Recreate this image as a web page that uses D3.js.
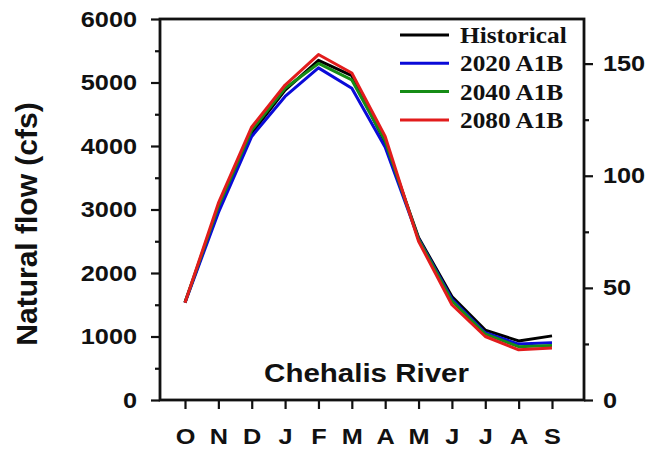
<!DOCTYPE html>
<html>
<head>
<meta charset="utf-8">
<script src="https://cdn.jsdelivr.net/npm/d3@7"></script>
<style>
    body { margin: 0; background: #fff; }
    text { font-family: "Liberation Sans", Arial, sans-serif; font-weight: bold; fill: #111; }
    .legend text { font-family: "Liberation Serif", "Times New Roman", serif; }
</style>
</head>
<body>
<script>
// monthly natural flow (cfs), water year Oct..Sep
let months = ["O", "N", "D", "J", "F", "M", "A", "M", "J", "J", "A", "S"];
let historical = [1540, 3000, 4200, 4880, 5350, 5110, 4050, 2560, 1630, 1100, 930, 1010];
let a1b2020 = [1530, 2950, 4150, 4780, 5230, 4910, 3980, 2540, 1590, 1060, 880, 900];
let a1b2040 = [1535, 3050, 4250, 4910, 5300, 5040, 4080, 2530, 1560, 1040, 840, 860];
let a1b2080 = [1530, 3100, 4300, 4960, 5440, 5150, 4150, 2500, 1500, 1000, 790, 820];
let seriesNames = ["Historical", "2020 A1B", "2040 A1B", "2080 A1B"];
let seriesColors = ["#000000", "#0a0ad8", "#168c16", "#e21c1c"];
let leftTicks = [0, 1000, 2000, 3000, 4000, 5000, 6000];
let rightTicks = [0, 50, 100, 150];
let cfsPerCms = 35.315;

let margin = { top: 19, right: 64, bottom: 49, left: 160 },
    width = 648 - margin.left - margin.right,
    height = 449 - margin.top - margin.bottom,
    textStretch = 1.15;

let svg = d3.select("body").append("svg")
    .attr("width", 648)
    .attr("height", 449)
    .append("g")
    .attr("transform", `translate(${margin.left}, ${margin.top})`);

let x = d3.scalePoint()
    .domain(d3.range(months.length))
    .range([25, 392]);

let y = d3.scaleLinear()
    .domain([0, 6000])
    .range([height, 0]);

// second axis in m3/s
let y2 = d3.scaleLinear()
    .domain([0, 6000 / cfsPerCms])
    .range([height, 0]);

function styleAxis(g, textX) {
    g.select(".domain").remove()
    g.selectAll(".tick line").attr("stroke", "#111").attr("stroke-width", 2.2)
    g.selectAll("text")
        .attr("font-size", 22)
        .attr("transform", `scale(${textStretch},1)`)
    if (textX != null) {
        g.selectAll("text").attr("x", textX / textStretch)
    }
}

// minor ticks
svg.append("g")
    .call(d3.axisLeft(y).tickValues(d3.range(500, 6000, 1000)).tickSize(5).tickFormat(""))
    .call(g => styleAxis(g));
svg.append("g")
    .attr("transform", `translate(${width}, 0)`)
    .call(d3.axisRight(y2).tickValues([25, 75, 125]).tickSize(5).tickFormat(""))
    .call(g => styleAxis(g));

svg.append("g")
    .call(d3.axisLeft(y).tickValues(leftTicks).tickSize(9).tickFormat(d3.format("d")))
    .call(g => styleAxis(g, -23));

svg.append("g")
    .attr("transform", `translate(${width}, 0)`)
    .call(d3.axisRight(y2).tickValues(rightTicks).tickSize(9))
    .call(g => styleAxis(g, 19));

svg.append("g")
    .attr("transform", `translate(0, ${height})`)
    .call(d3.axisBottom(x).tickSize(9).tickFormat(i => months[i]))
    .call(g => styleAxis(g))
    .call(g => g.selectAll("text").attr("y", 44).attr("dy", null).attr("font-size", 22));

// frame
svg.append("rect")
    .attr("width", width)
    .attr("height", height)
    .attr("fill", "none")
    .attr("stroke", "#111")
    .attr("stroke-width", 2.8);

let line = d3.line()
    .x((d, i) => x(i))
    .y(d => y(d));

let allSeries = [historical, a1b2020, a1b2040, a1b2080];

svg.selectAll("path.flow")
    .data(allSeries)
    .enter()
    .append("path")
    .attr("class", "flow")
    .attr("d", d => line(d))
    .attr("fill", "none")
    .attr("stroke", (d, i) => seriesColors[i])
    .attr("stroke-width", 3)
    .attr("stroke-linejoin", "round");

// legend
let legend = svg.append("g")
    .attr("class", "legend")
    .attr("transform", "translate(240, 16)");

let row = legend.selectAll("g")
    .data(seriesNames)
    .enter()
    .append("g")
    .attr("transform", (d, i) => `translate(0, ${i * 28.3})`);

row.append("line")
    .attr("x1", 0)
    .attr("x2", 49)
    .attr("stroke", (d, i) => seriesColors[i])
    .attr("stroke-width", 3);

row.append("text")
    .attr("x", 60 / 1.1)
    .attr("y", 8)
    .attr("font-size", 23)
    .attr("transform", "scale(1.1,1)")
    .text(d => d);

svg.append("text")
    .attr("transform", `translate(${366.5 - margin.left}, ${382 - margin.top}) scale(1.18,1)`)
    .attr("text-anchor", "middle")
    .attr("font-size", 25)
    .text("Chehalis River");

d3.select("svg").append("text")
    .attr("transform", "translate(37, 224) rotate(-90)")
    .attr("text-anchor", "middle")
    .attr("font-size", 30)
    .text("Natural flow (cfs)");
</script>
</body>
</html>
